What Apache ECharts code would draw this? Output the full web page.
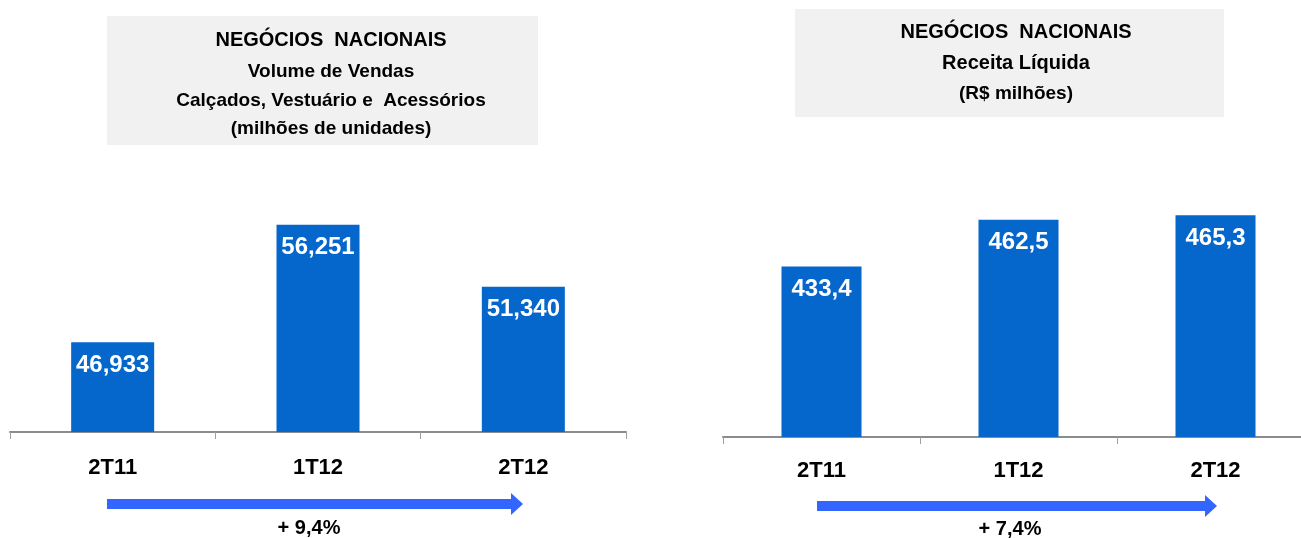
<!DOCTYPE html>
<html>
<head>
<meta charset="utf-8">
<script src="https://cdn.jsdelivr.net/npm/echarts@6/dist/echarts.min.js"></script>
<style>
  html, body { margin: 0; padding: 0; background: #fff; }
  #myChart { width: 1301px; height: 538px; }
</style>
</head>
<body>
<div id="myChart"></div>
<script>
  // dados
  var categorias = ['2T11', '1T12', '2T12'];
  var volumeVendas = [46.933, 56.251, 51.340];   // milhões de unidades
  var receitaLiquida = [433.4, 462.5, 465.3];    // R$ milhões
  var crescimentoVolume = '+ 9,4%';
  var crescimentoReceita = '+ 7,4%';

  var FONT = '"Liberation Sans", Arial, sans-serif';
  var AZUL = '#0566CC';
  var SETA = '#3366FF';

  function fmt(casas) {
    return function (p) { return p.value.toFixed(casas).replace('.', ','); };
  }

  function seta(x0, x1, y) {
    // seta horizontal: corpo + ponta
    return [
      { type: 'rect', shape: { x: x0, y: y - 5, width: x1 - x0 - 12, height: 10 }, style: { fill: SETA } },
      { type: 'polygon', shape: { points: [[x1 - 12, y - 11], [x1, y], [x1 - 12, y + 11]] }, style: { fill: SETA } }
    ];
  }

  function caixaTitulo(x, y, w, h, cx, linhas) {
    var els = [{ type: 'rect', shape: { x: x, y: y, width: w, height: h }, style: { fill: '#F1F1F1' } }];
    linhas.forEach(function (l) {
      els.push({
        type: 'text', x: cx, y: l.y,
        style: { text: l.t, font: 'bold ' + l.s + 'px ' + FONT, fill: '#000', align: 'center', verticalAlign: 'middle' }
      });
    });
    return els;
  }

  var eixoX = function (idx, margem) {
    return {
      type: 'category', gridIndex: idx, data: categorias,
      axisLine: { lineStyle: { color: '#8C8C8C', width: 2 } },
      axisTick: { show: true, length: 7, lineStyle: { color: '#A0A0A0', width: 1 } },
      axisLabel: { margin: margem, color: '#000', fontFamily: FONT, fontWeight: 'bold', fontSize: 22 }
    };
  };

  var rotulo = function (casas) {
    return {
      show: true, position: 'insideTop', distance: 11,
      color: '#fff', fontFamily: FONT, fontWeight: 'bold', fontSize: 24,
      formatter: fmt(casas)
    };
  };

  var graficos = []
    .concat(caixaTitulo(107, 16, 431, 129, 331, [
      { t: 'NEGÓCIOS  NACIONAIS', y: 40, s: 20 },
      { t: 'Volume de Vendas', y: 72, s: 19 },
      { t: 'Calçados, Vestuário e  Acessórios', y: 101, s: 19 },
      { t: '(milhões de unidades)', y: 129, s: 19 }
    ]))
    .concat(caixaTitulo(795, 9, 429, 108, 1016, [
      { t: 'NEGÓCIOS  NACIONAIS', y: 32, s: 20 },
      { t: 'Receita Líquida', y: 63, s: 20 },
      { t: '(R$ milhões)', y: 94, s: 19 }
    ]))
    .concat(seta(107, 523, 504))
    .concat(seta(817, 1217, 506))
    .concat([
      { type: 'text', x: 309, y: 528, style: { text: crescimentoVolume, font: 'bold 20px ' + FONT, fill: '#000', align: 'center', verticalAlign: 'middle' } },
      { type: 'text', x: 1010, y: 529, style: { text: crescimentoReceita, font: 'bold 20px ' + FONT, fill: '#000', align: 'center', verticalAlign: 'middle' } }
    ]);

  var myChart = echarts.init(document.getElementById('myChart'));
  myChart.setOption({
    animation: false,
    grid: [
      { left: 10, width: 616, top: 155, bottom: 106, outerBoundsMode: 'none' },
      { left: 723, width: 591, top: 150, bottom: 101, outerBoundsMode: 'none' }
    ],
    xAxis: [eixoX(0, 25), eixoX(1, 23)],
    yAxis: [
      { type: 'value', gridIndex: 0, min: 39.8, max: 61.8, show: false, splitLine: { show: false } },
      { type: 'value', gridIndex: 1, min: 327, max: 506, show: false, splitLine: { show: false } }
    ],
    series: [
      {
        name: 'Volume de Vendas', type: 'bar', xAxisIndex: 0, yAxisIndex: 0,
        data: volumeVendas, barWidth: 83, itemStyle: { color: AZUL }, label: rotulo(3)
      },
      {
        name: 'Receita Líquida', type: 'bar', xAxisIndex: 1, yAxisIndex: 1,
        data: receitaLiquida, barWidth: 80, itemStyle: { color: AZUL }, label: rotulo(1)
      }
    ],
    graphic: graficos
  });
</script>
</body>
</html>
